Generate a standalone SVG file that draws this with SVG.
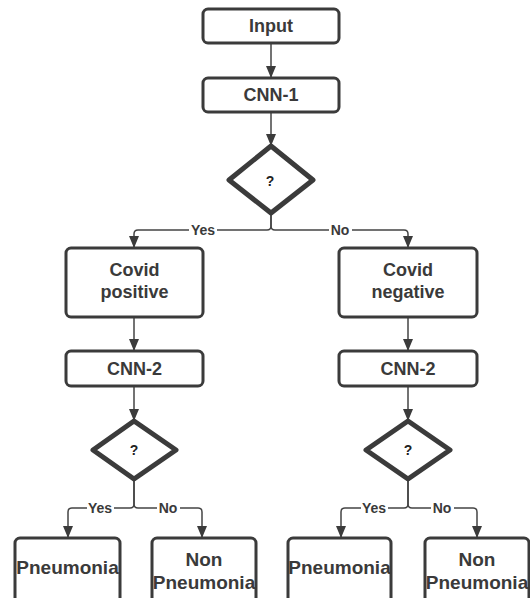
<svg xmlns="http://www.w3.org/2000/svg" width="530" height="598" viewBox="0 0 530 598">
<style>
.box{fill:#fff;stroke:#3b3b3b;stroke-width:3}
.dia{fill:#fff;stroke:#3b3b3b;stroke-width:5;stroke-linejoin:round}
.t{font-family:"Liberation Sans",Arial,sans-serif;font-weight:bold;font-size:18px;fill:#3a3a3a;text-anchor:middle}
.q{font-family:"Liberation Sans",Arial,sans-serif;font-weight:bold;font-size:14px;fill:#222;text-anchor:middle}
.lbl{font-family:"Liberation Sans",Arial,sans-serif;font-weight:bold;font-size:14px;fill:#3a3a3a;text-anchor:middle}
.big{font-family:"Liberation Sans",Arial,sans-serif;font-weight:bold;font-size:19px;fill:#3a3a3a;text-anchor:middle}
.c{fill:none;stroke:#444;stroke-width:1.5}
.lb{fill:#fff}
</style>
<defs>
<marker id="ah" markerUnits="userSpaceOnUse" markerWidth="12" markerHeight="10" refX="12" refY="5" orient="auto">
<path d="M0,0 L12,5 L0,10 z" fill="#3b3b3b"/>
</marker>
</defs>
<rect width="530" height="598" fill="#fff"/>
<g id="connectors">
<path class="c" d="M271,43 V78" marker-end="url(#ah)"/>
<path class="c" d="M271,112 V146" marker-end="url(#ah)"/>
<path class="c" d="M271,213 V226 Q271,230 267,230 H138 Q134,230 134,234 V248" marker-end="url(#ah)"/>
<path class="c" d="M271,213 V226 Q271,230 275,230 H404 Q408,230 408,234 V248" marker-end="url(#ah)"/>
<path class="c" d="M134,317 V351" marker-end="url(#ah)"/>
<path class="c" d="M408,317 V351" marker-end="url(#ah)"/>
<path class="c" d="M134,386 V421" marker-end="url(#ah)"/>
<path class="c" d="M408,386 V421" marker-end="url(#ah)"/>
<path class="c" d="M134,479 V504 Q134,508 130,508 H72 Q68,508 68,512 V538" marker-end="url(#ah)"/>
<path class="c" d="M134,479 V504 Q134,508 138,508 H198 Q202,508 202,512 V538" marker-end="url(#ah)"/>
<path class="c" d="M408,479 V504 Q408,508 404,508 H345 Q341,508 341,512 V538" marker-end="url(#ah)"/>
<path class="c" d="M408,479 V504 Q408,508 412,508 H473 Q477,508 477,512 V538" marker-end="url(#ah)"/>
<rect class="lb" x="189" y="222" width="28" height="16"/>
<text class="lbl" x="203" y="235">Yes</text>
<rect class="lb" x="329" y="222" width="23" height="16"/>
<text class="lbl" x="340" y="235">No</text>
<rect class="lb" x="87" y="500" width="27" height="16"/>
<text class="lbl" x="100" y="513">Yes</text>
<rect class="lb" x="157" y="500" width="23" height="16"/>
<text class="lbl" x="168" y="513">No</text>
<rect class="lb" x="361" y="500" width="27" height="16"/>
<text class="lbl" x="374" y="513">Yes</text>
<rect class="lb" x="431" y="500" width="23" height="16"/>
<text class="lbl" x="442" y="513">No</text>
</g>
<g id="input"><rect class="box" x="203" y="9" width="136" height="34" rx="5"/><text class="t" x="271" y="32">Input</text></g>
<g id="cnn1"><rect class="box" x="203" y="78" width="136" height="34" rx="5"/><text class="t" x="271" y="101">CNN-1</text></g>
<g id="dec1"><polygon class="dia" points="271,146 313,180 271,213 229,180"/><text class="q" x="270" y="186">?</text></g>
<g id="covidpos"><rect class="box" x="66" y="248" width="137" height="69" rx="5"/><text class="t" x="134.5" y="276">Covid</text><text class="t" x="134.5" y="298">positive</text></g>
<g id="covidneg"><rect class="box" x="339" y="248" width="138" height="69" rx="5"/><text class="t" x="408" y="276">Covid</text><text class="t" x="408" y="298">negative</text></g>
<g id="cnn2a"><rect class="box" x="66" y="351" width="137" height="35" rx="5"/><text class="t" x="134.5" y="375">CNN-2</text></g>
<g id="cnn2b"><rect class="box" x="339" y="351" width="138" height="35" rx="5"/><text class="t" x="408" y="375">CNN-2</text></g>
<g id="dec2"><polygon class="dia" points="134,421 176,450 134,479 93,450"/><text class="q" x="134" y="455">?</text></g>
<g id="dec3"><polygon class="dia" points="408,421 450,450 408,479 366,450"/><text class="q" x="408" y="455">?</text></g>
<g id="pneu1"><rect class="box" x="15" y="538" width="105" height="80" rx="5"/><text class="big" x="67.5" y="574">Pneumonia</text></g>
<g id="nonpneu1"><rect class="box" x="152" y="538" width="104" height="80" rx="5"/><text class="big" x="204" y="566">Non</text><text class="big" x="204" y="589">Pneumonia</text></g>
<g id="pneu2"><rect class="box" x="288" y="538" width="103" height="80" rx="5"/><text class="big" x="339.5" y="574">Pneumonia</text></g>
<g id="nonpneu2"><rect class="box" x="425" y="538" width="104" height="80" rx="5"/><text class="big" x="477" y="566">Non</text><text class="big" x="477" y="589">Pneumonia</text></g>
</svg>
